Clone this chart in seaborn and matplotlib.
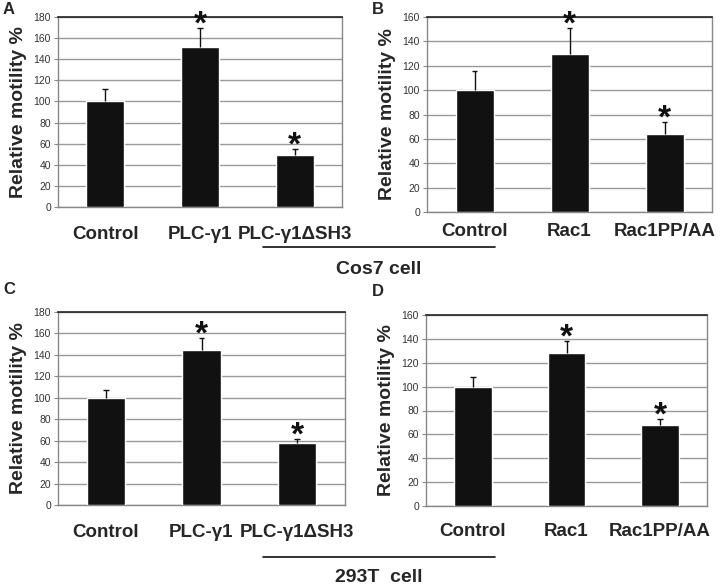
import numpy as np
import pandas as pd
import matplotlib
matplotlib.use('Agg')
import matplotlib.pyplot as plt
import seaborn as sns

sns.set_style('white')
plt.rcParams['font.family'] = ['Liberation Sans', 'DejaVu Sans']

# data
plc_groups = ['Control', 'PLC-γ1', 'PLC-γ1ΔSH3']
rac_groups = ['Control', 'Rac1', 'Rac1PP/AA']

a_mean = [100, 152, 49]
a_err = [12, 18, 6]
b_mean = [100, 130, 64]
b_err = [16, 21, 10]
c_mean = [100, 145, 58]
c_err = [7, 11, 4]
d_mean = [100, 128, 68]
d_err = [8, 10, 5]

a_star = [False, True, True]
b_star = [False, True, True]
c_star = [False, True, True]
d_star = [False, True, True]

W, H = 720, 585
fig = plt.figure(figsize=(W / 100, H / 100), dpi=100)


def px_axes(l, t, r, b):
    return fig.add_axes([l / W, 1 - b / H, (r - l) / W, (b - t) / H])


def panel(box, groups, mean, err, stars, ymax, letter, letter_xy, xpad):
    ax = px_axes(*box)
    df = pd.DataFrame({'group': groups, 'value': mean})
    sns.barplot(data=df, x='group', y='value', color='#111111', width=0.4,
                saturation=1, ax=ax, errorbar=None, zorder=3)
    x = np.arange(len(groups))
    tops = np.array(mean) + np.array(err)
    # upward-only error bars with a small cap
    ax.vlines(x, mean, tops, color='#111111', lw=1, zorder=4)
    ax.hlines(tops, x - 0.03, x + 0.03, color='#111111', lw=1, zorder=4)
    for xi, t, s in zip(x, tops, stars):
        if s:
            ax.annotate('*', (xi, t), xytext=(0, -4), textcoords='offset points',
                        ha='center', va='baseline', fontsize=24,
                        fontweight='bold', color='#111111', annotation_clip=False)
    ax.set_ylim(0, ymax)
    ax.set_xlim(-0.5, len(groups) - 0.5)
    ax.set_yticks(np.arange(0, ymax + 1, 20))
    ax.yaxis.grid(True, color='#9a9a9a', lw=1)
    ax.set_axisbelow(True)
    ax.tick_params(axis='y', labelsize=7.5, length=3, color='#888888',
                   labelcolor='#333333', pad=2, direction='out', left=True)
    ax.set_xticks(x)
    ax.set_xticklabels(groups, fontsize=13.5, fontweight='bold')
    ax.tick_params(axis='x', length=0, pad=xpad)
    ax.set_xticks(np.arange(-0.5, len(groups)), minor=True)
    ax.tick_params(axis='x', which='minor', length=4, color='#888888',
                   direction='out')
    ax.set_xlabel('')
    ax.set_ylabel('Relative motility %', fontsize=14, fontweight='bold',
                  labelpad=5)
    for side in ['left', 'bottom', 'right']:
        ax.spines[side].set_color('#888888')
        ax.spines[side].set_linewidth(1)
    ax.spines['top'].set_color('#222222')
    ax.spines['top'].set_linewidth(1.2)
    fig.text(letter_xy[0] / W, 1 - letter_xy[1] / H, letter, fontsize=12,
             fontweight='bold', ha='left', va='center')
    return ax


panel((58, 17, 342, 207), plc_groups, a_mean, a_err, a_star, 180, 'A', (3, 9), 14)
panel((427, 17, 712, 212), rac_groups, b_mean, b_err, b_star, 160, 'B', (372, 9), 8)
panel((58, 312, 345, 505), plc_groups, c_mean, c_err, c_star, 180, 'C', (3, 289), 14)
panel((426, 315, 707, 506), rac_groups, d_mean, d_err, d_star, 160, 'D', (372, 291), 12)

# cell line brackets
for y_line, y_txt, label in [(247, 270, 'Cos7 cell'), (557, 578, '293T  cell')]:
    fig.add_artist(plt.Line2D([263 / W, 495 / W], [1 - y_line / H, 1 - y_line / H],
                              color='#111111', lw=1.2))
    fig.text(379 / W, 1 - y_txt / H, label, fontsize=14, fontweight='bold',
             ha='center', va='center')

fig.savefig('out.png', dpi=100)
